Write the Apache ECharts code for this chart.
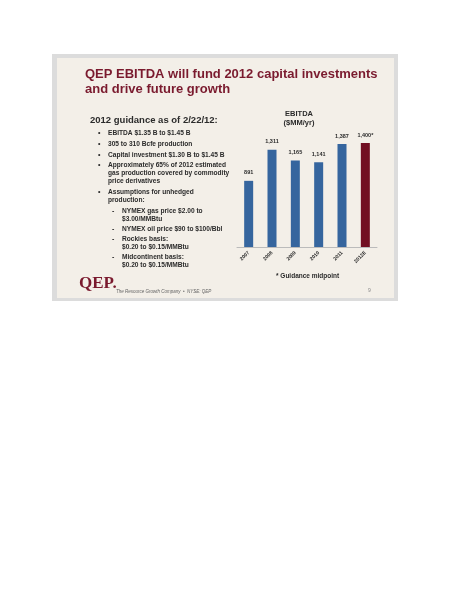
<!DOCTYPE html><html><head><meta charset="utf-8"><script src="https://cdn.jsdelivr.net/npm/echarts@6/dist/echarts.min.js"></script>
<style>html,body{margin:0;background:#fff}#c{width:464px;height:600px}</style></head><body><div id="c"></div><script>
const categories=['2007','2008','2009','2010','2011','2012E'];
const values=[891,1311,1165,1141,1387,1400];
const labels=['891','1,311','1,165','1,141','1,387','1,400*'];
const bullets=[
 ['•','EBITDA $1.35 B to $1.45 B',0,134],
 ['•','305 to 310 Bcfe production',0,145],
 ['•','Capital investment $1.30 B to $1.45 B',0,156],
 ['•','Approximately 65% of 2012 estimated',0,166],
 ['','gas production covered by commodity',0,174],
 ['','price derivatives',0,182],
 ['•','Assumptions for unhedged',0,193],
 ['','production:',0,201],
 ['-','NYMEX gas price $2.00 to',1,212],
 ['','$3.00/MMBtu',1,220],
 ['-','NYMEX oil price $90 to $100/Bbl',1,230],
 ['-','Rockies basis:',1,240],
 ['','$0.20 to $0.15/MMBtu',1,248],
 ['-','Midcontinent basis:',1,258],
 ['','$0.20 to $0.15/MMBtu',1,266]];
const red='#7a1a2e', dk='#2b2b2b';
const g=[
 {type:'rect',shape:{x:52,y:54,width:346,height:247},style:{fill:'#dcdcdc'},z:-10},
 {type:'rect',shape:{x:57,y:58,width:337,height:240},style:{fill:'#f3efe8'},z:-9},
 {type:'text',x:85,y:68,style:{text:'QEP EBITDA will fund 2012 capital investments',font:'bold 13px Liberation Sans',fill:red}},
 {type:'text',x:85,y:83,style:{text:'and drive future growth',font:'bold 13px Liberation Sans',fill:red}},
 {type:'text',x:90,y:115,style:{text:'2012 guidance as of 2/22/12:',font:'bold 9.5px Liberation Sans',fill:dk}},
 {type:'text',x:299,y:110,style:{text:'EBITDA',font:'bold 7.5px Liberation Sans',fill:dk,align:'center'}},
 {type:'text',x:299,y:119,style:{text:'($MM/yr)',font:'bold 7.5px Liberation Sans',fill:dk,align:'center'}},
 {type:'text',x:276,y:273,style:{text:'* Guidance midpoint',font:'bold 6.5px Liberation Sans',fill:dk}},
 {type:'text',x:79,y:275,style:{text:'QEP.',font:'bold 17px Liberation Serif',fill:red}},
 {type:'text',x:116,y:289,style:{text:'The Resource Growth Company  •  NYSE: QEP',font:'italic 4.5px Liberation Sans',fill:'#666'}},
 {type:'text',x:368,y:288,style:{text:'9',font:'5px Liberation Sans',fill:'#888'}}];
bullets.forEach(b=>{const bx=b[2]?112:98, tx=b[2]?122:108;
 if(b[0])g.push({type:'text',x:bx,y:b[3]-4,style:{text:b[0],font:'bold 7px Liberation Sans',fill:dk}});
 g.push({type:'text',x:tx,y:b[3]-4,style:{text:b[1],font:'bold 6.6px Liberation Sans',fill:dk}});});
const ch=echarts.init(document.getElementById('c'));
ch.setOption({animation:false,graphic:g,
 grid:{left:237,top:135.6,width:140,bottom:600-247},
 xAxis:{type:'category',data:categories,axisTick:{show:false},axisLine:{lineStyle:{color:'#bbb'}},
  axisLabel:{rotate:45,fontSize:5,fontWeight:'bold',color:dk,margin:5}},
 yAxis:{type:'value',min:0,max:1500,show:false,splitLine:{show:false}},
 series:[{type:'bar',barWidth:9,data:values.map((v,i)=>({value:v,itemStyle:{color:i==5?'#720f22':'#35659e'}})),
  label:{show:true,position:'top',distance:5,fontSize:5.5,fontWeight:'bold',color:dk,formatter:p=>labels[p.dataIndex]}}]});
</script></body></html>
